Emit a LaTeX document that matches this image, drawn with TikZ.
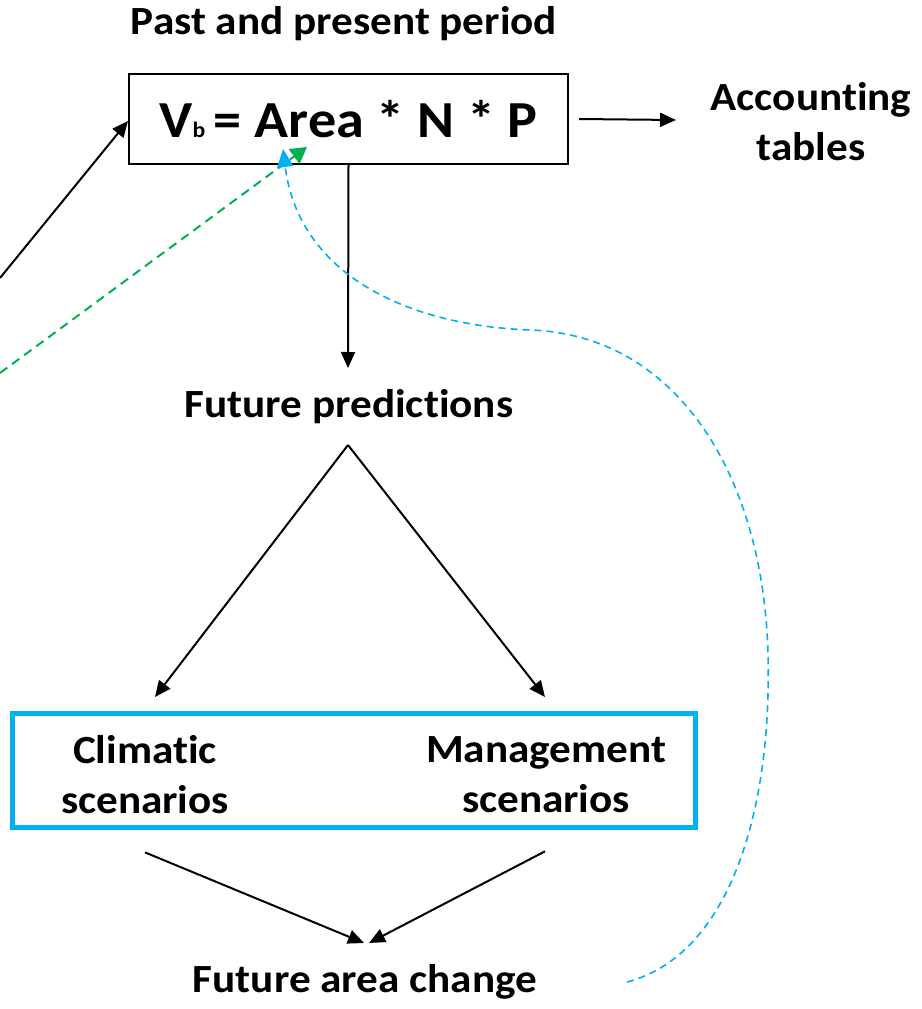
\documentclass[tikz,border=0pt]{standalone}
\usepackage{fontspec}
\setmainfont{Carlito}[FakeStretch=1.08, Ligatures=NoCommon]
\usetikzlibrary{arrows.meta}
\definecolor{skyblue}{HTML}{00B0F0}
\definecolor{leafgreen}{HTML}{00B050}
\begin{document}
\begin{tikzpicture}[x=1pt,y=-1pt,
  lbl/.style={font=\fontsize{40}{50}\selectfont\bfseries, align=center, inner sep=0pt},
  arr/.style={line width=2pt, -{Triangle[length=16pt,width=14pt]}},
  greenlink/.style={leafgreen, line width=2pt, dash pattern=on 9pt off 6pt, -{Triangle[length=16pt,width=18pt]}},
  bluelink/.style={skyblue, line width=1.6pt, dash pattern=on 7pt off 5pt, -{Triangle[length=18pt,width=16pt]}}]
\useasboundingbox (0,0) rectangle (921,1009);

% headings and labels
\node[lbl] (title) at (344,24) {Past and present period};
\node[draw, line width=2pt, minimum width=439pt, minimum height=90pt, inner sep=0pt] (fbox) at (348.5,119)
  {\fontsize{52}{52}\selectfont\bfseries V{\fontsize{22}{22}\selectfont b}\,= Area * N * P};
\node[lbl] (acct) at (811,122) {Accounting\\tables};
\node[lbl] (pred) at (349,407) {Future predictions};
\node[draw=skyblue, line width=5pt, minimum width=683pt, minimum height=114pt, inner sep=0pt] (scen) at (353.5,770) {};
\node[lbl] (clim) at (145,775) {Climatic\\scenarios};
\node[lbl] (mgmt) at (546,775) {Management\\scenarios};
\node[lbl] (change) at (365,982) {Future area change};

% free ends of the incoming links
\coordinate (blackin) at (0,278);
\coordinate (greenin) at (0,373);
\coordinate (fork) at (348,445);
\coordinate (bluetip) at (283,149);
\coordinate (greentip) at (307,147);

% solid connectors
\draw[arr] (blackin) -- (fbox.west |- 0,121);
\draw[arr] (fbox.east) ++(10,0) -- (676,120);
\draw[arr] (fbox.south) -- (348,368);
\draw[arr] (fork) -- (155,697);
\draw[arr] (fork) -- (545,697);
\draw[arr] (clim.south) ++(0,38) -- (364,943);
\draw[arr] (mgmt.south) ++(-1,38) -- (369,943);

% dashed feedback links
\draw[greenlink] (greenin) -- (greentip);
\draw[bluelink] (627,982) .. controls (730,955) and (772,810) .. (768,655)
  .. controls (764,480) and (680,335) .. (530,330)
  .. controls (400,325) and (298,270) .. (bluetip);
\end{tikzpicture}
\end{document}
